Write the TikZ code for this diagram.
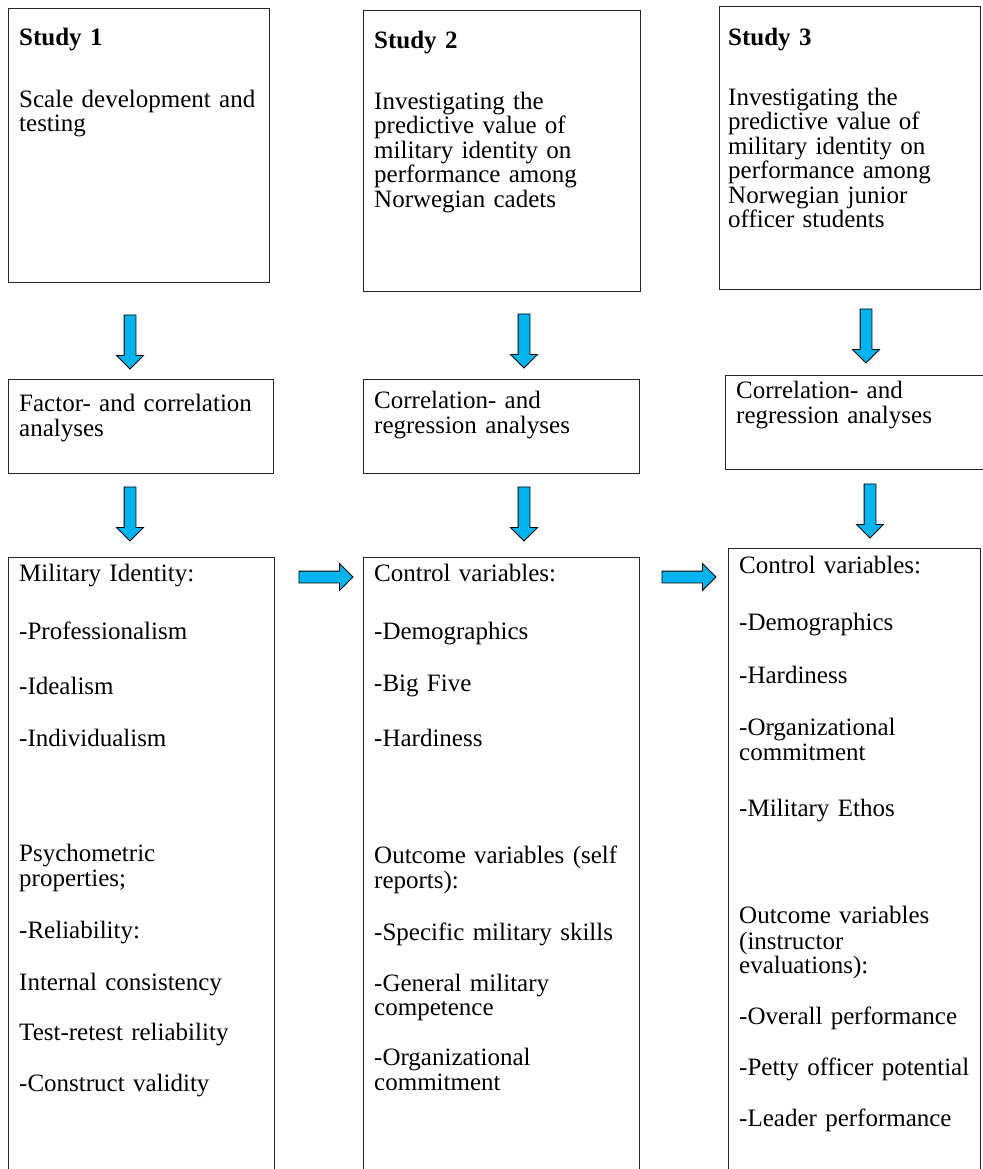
\documentclass[tikz,border=0pt]{standalone}
\usepackage{fontspec}
\setmainfont{Liberation Serif}
\usetikzlibrary{shapes.arrows}
\definecolor{arrowblue}{RGB}{0,180,240}
\tikzset{
  box/.style={draw=black!85, line width=1.2pt, anchor=north west, inner sep=0pt},
  txt/.style={anchor=north west, inner sep=0pt, align=left, text width=250pt,
    font=\fontsize{25}{24.5}\selectfont},
  blockarrow/.style={single arrow, draw=black, fill=arrowblue, line width=0.8pt,
    inner xsep=0pt, inner ysep=5.5pt, single arrow head extend=7.5pt, minimum height=54pt}
}

\begin{document}
\begin{tikzpicture}[x=1pt,y=-1pt]
\useasboundingbox (0,0) rectangle (982,1169);
\fill[white] (0,0) rectangle (982,1169);

% study boxes
\node[box, minimum width=261pt, minimum height=274pt] (s1) at (8,8) {};
\node[box, minimum width=277pt, minimum height=281pt] (s2) at (363,10) {};
\node[box, minimum width=261pt, minimum height=283pt] (s3) at (719,6) {};
\node[txt] (s1txt) at (19,28) {\textbf{Study 1}\\[37pt]
  Scale development and\\ testing};
\node[txt] (s2txt) at (374,31) {\textbf{Study 2}\\[36pt]
  Investigating the\\ predictive value of\\ military identity on\\ performance among\\ Norwegian cadets};
\node[txt] (s3txt) at (728,28) {\textbf{Study 3}\\[35pt]
  Investigating the\\ predictive value of\\ military identity on\\ performance among\\ Norwegian junior\\ officer students};

% analysis boxes
\node[box, minimum width=265pt, minimum height=94pt] (a1) at (8,379) {};
\node[box, minimum width=276pt, minimum height=94pt] (a2) at (363,379) {};
\node[box, minimum width=270pt, minimum height=94pt] (a3) at (725,375) {};
\node[txt] (a1txt) at (19,394) {Factor- and correlation\\ analyses};
\node[txt] (a2txt) at (374,391) {Correlation- and\\ regression analyses};
\node[txt] (a3txt) at (736,381) {Correlation- and\\ regression analyses};

% variable boxes
\node[box, minimum width=266pt, minimum height=623pt] (v1) at (8,557) {};
\node[box, minimum width=276pt, minimum height=623pt] (v2) at (363,557) {};
\node[box, minimum width=252pt, minimum height=632pt] (v3) at (728,548) {};
\node[txt] (v1txt) at (19,564) {Military Identity:\\[33.5pt]
  -Professionalism\\[30.5pt]
  -Idealism\\[27.5pt]
  -Individualism\\[90.5pt]
  Psychometric\\ properties;\\[27.5pt]
  -Reliability:\\[27.5pt]
  Internal consistency\\[25.5pt]
  Test-retest reliability\\[26.5pt]
  -Construct validity};
\node[txt] (v2txt) at (374,564) {Control variables:\\[33.5pt]
  -Demographics\\[27.5pt]
  -Big Five\\[30.5pt]
  -Hardiness\\[92.5pt]
  Outcome variables (self\\ reports):\\[27.5pt]
  -Specific military skills\\[26.5pt]
  -General military\\ competence\\[25.5pt]
  -Organizational\\ commitment};
\node[txt] (v3txt) at (739,556) {Control variables:\\[32.5pt]
  -Demographics\\[28.5pt]
  -Hardiness\\[27.5pt]
  -Organizational\\ commitment\\[31.5pt]
  -Military Ethos\\[82.5pt]
  Outcome variables\\[1.5pt] (instructor\\ evaluations):\\[26.5pt]
  -Overall performance\\[26.5pt]
  -Petty officer potential\\[26.5pt]
  -Leader performance};

% arrows
\node[blockarrow, rotate=-90] (d1) at (130,339) {};
\node[blockarrow, rotate=-90] (d2) at (524,338) {};
\node[blockarrow, rotate=-90] (d3) at (866,333) {};
\node[blockarrow, rotate=-90] (e1) at (130,511) {};
\node[blockarrow, rotate=-90] (e2) at (524,511) {};
\node[blockarrow, rotate=-90] (e3) at (870,508) {};
\node[blockarrow] (r1) at (323,577) {};
\node[blockarrow] (r2) at (686,577) {};
\end{tikzpicture}
\end{document}
